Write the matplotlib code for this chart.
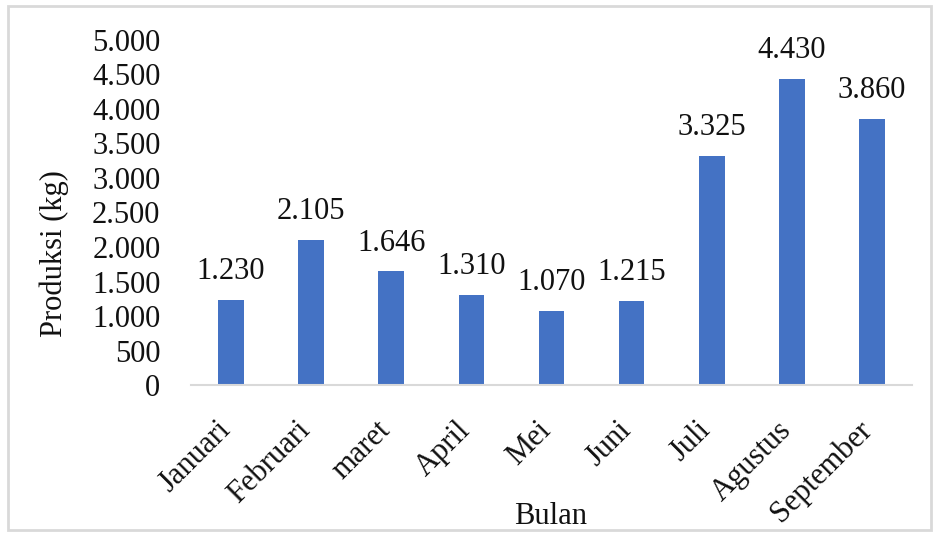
import matplotlib.pyplot as plt
import matplotlib.transforms as mtransforms
from matplotlib.patches import Rectangle

# data
bulan = ['Januari', 'Februari', 'maret', 'April', 'Mei', 'Juni', 'Juli', 'Agustus', 'September']
produksi = [1230, 2105, 1646, 1310, 1070, 1215, 3325, 4430, 3860]
yticks = [0, 500, 1000, 1500, 2000, 2500, 3000, 3500, 4000, 4500, 5000]


def fmt(v):
    # thousands separator is a dot
    return f'{v:,}'.replace(',', '.')


plt.rcParams['font.family'] = 'serif'
plt.rcParams['font.serif'] = ['Liberation Serif', 'Times New Roman', 'Tinos', 'Nimbus Roman', 'DejaVu Serif']

fs = 22
txt = '#111111'

fig = plt.figure(figsize=(9.39, 5.36), dpi=100)
ax = fig.add_axes([0.2034, 0.2817, 0.7678, 0.6437])

x = range(len(bulan))
ax.bar(x, produksi, width=0.32, color='#4472C4', zorder=2)
for xi, v in zip(x, produksi):
    ax.annotate(fmt(v), (xi, v), xytext=(0, 10), textcoords='offset points',
                ha='center', va='bottom', fontsize=fs, color=txt)

ax.set_xlim(-0.5, len(bulan) - 0.5)
ax.set_ylim(0, 5000)
ax.set_yticks(yticks)
ax.set_yticklabels([fmt(t) for t in yticks], fontsize=fs, color=txt)
ax.set_xticks(list(x))
ax.set_xticklabels(bulan, rotation=45, ha='right', va='top', rotation_mode='anchor', fontsize=fs, color=txt)
ax.tick_params(axis='x', length=0, pad=22)
ax.tick_params(axis='y', length=0, pad=22)

# nudge the slanted month names a little to the left
shift = mtransforms.ScaledTranslation(-11 / 72, 0, fig.dpi_scale_trans)
for lab in ax.get_xticklabels():
    lab.set_transform(lab.get_transform() + shift)

for s in ['top', 'right', 'left']:
    ax.spines[s].set_visible(False)
ax.spines['bottom'].set_color('#d9d9d9')
ax.spines['bottom'].set_linewidth(1.5)

ax.set_ylabel('Produksi (kg)', fontsize=fs, color=txt)
ax.yaxis.set_label_coords(-0.169, 0.38)
fig.text(0.586, 0.036, 'Bulan', ha='center', va='center', fontsize=fs, color=txt)

# light border round the figure
fig.patches.append(Rectangle((0.008, 0.012), 0.984, 0.976, transform=fig.transFigure,
                             fill=False, edgecolor='#d9d9d9', linewidth=2))

fig.savefig('out.png', dpi=100)
